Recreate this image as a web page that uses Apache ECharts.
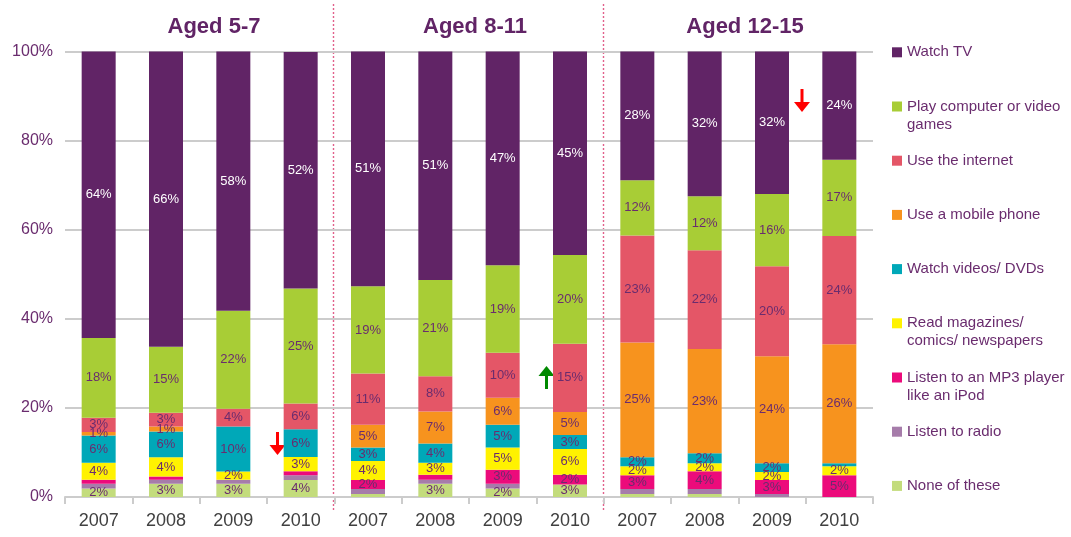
<!DOCTYPE html>
<html><head><meta charset="utf-8">
<script src="https://cdn.jsdelivr.net/npm/echarts@6/dist/echarts.min.js"></script>
<style>html,body{margin:0;padding:0;background:#fff}#c{width:1071px;height:537px}</style>
</head><body><div id="c"></div>
<script>
const categories = ['2007','2008','2009','2010','2007','2008','2009','2010','2007','2008','2009','2010'];
const groupTitles = ['Aged 5-7','Aged 8-11','Aged 12-15'];
const yTicks = [0,20,40,60,80,100];

// measured segment heights (%)
const none     = [1.9, 3.0, 3.0, 3.8, 0.7, 3.0, 1.9, 2.8, 0.7, 0.7, 0, 0];
const radio    = [1.1, 0.9, 0.9, 1.1, 1.1, 0.9, 1.1, 0, 1.1, 1.1, 0.7, 0];
const mp3      = [0.9, 0.7, 0, 0.9, 2.0, 1.1, 3.1, 2.2, 3.1, 4.0, 3.1, 4.9];
const readMag  = [3.8, 4.3, 1.8, 3.2, 4.3, 2.7, 5.0, 5.8, 2.0, 1.8, 1.8, 2.0];
const dvds     = [6.1, 5.8, 10.1, 6.2, 3.0, 4.3, 5.1, 3.1, 2.0, 2.2, 2.0, 0.7];
const mobile   = [0.8, 1.1, 0, 0, 5.1, 7.2, 6.1, 5.2, 25.8, 23.4, 24.0, 26.7];
const internet = [3.2, 3.1, 4.0, 5.8, 11.5, 7.9, 10.1, 15.3, 24.0, 22.2, 20.2, 24.3];
const games    = [17.9, 14.8, 22.0, 25.8, 19.6, 21.6, 19.6, 19.9, 12.4, 12.1, 16.2, 17.1];
const tv       = [64.3, 66.3, 58.2, 53.1, 52.7, 51.3, 48.0, 45.7, 28.9, 32.5, 32.0, 24.3];

// printed labels (null = not labelled)
const noneLbl     = [2,3,3,4,null,3,2,3,null,null,null,null];
const radioLbl    = [null,null,null,null,null,null,null,null,null,null,null,null];
const mp3Lbl      = [null,null,null,null,2,null,3,2,3,4,3,5];
const readLbl     = [4,4,2,3,4,3,5,6,2,2,2,2];
const dvdsLbl     = [6,6,10,6,3,4,5,3,2,2,2,null];
const mobileLbl   = [1,1,null,null,5,7,6,5,25,23,24,26];
const internetLbl = [3,3,4,6,11,8,10,15,23,22,20,24];
const gamesLbl    = [18,15,22,25,19,21,19,20,12,12,16,17];
const tvLbl       = [64,66,58,52,51,51,47,45,28,32,32,24];

const seriesDefs = [
  {name:'None of these', data:none, lbl:noneLbl, color:'#c3dc7c'},
  {name:'Listen to radio', data:radio, lbl:radioLbl, color:'#a67caa'},
  {name:'Listen to an MP3 player like an iPod', data:mp3, lbl:mp3Lbl, color:'#ec0b7b', legend:'Listen to an MP3 player\nlike an iPod'},
  {name:'Read magazines/ comics/ newspapers', data:readMag, lbl:readLbl, color:'#fff200', legend:'Read magazines/\ncomics/ newspapers'},
  {name:'Watch videos/ DVDs', data:dvds, lbl:dvdsLbl, color:'#00a8b8'},
  {name:'Use a mobile phone', data:mobile, lbl:mobileLbl, color:'#f7931e'},
  {name:'Use the internet', data:internet, lbl:internetLbl, color:'#e45667'},
  {name:'Play computer or video games', data:games, lbl:gamesLbl, color:'#a8cd36', legend:'Play computer or video\ngames'},
  {name:'Watch TV', data:tv, lbl:tvLbl, color:'#612466', white:true}
];

const FONT = '"Liberation Sans", Arial, sans-serif';
const PURPLE = '#612466';

const series = seriesDefs.map(d => ({
  name: d.name, type: 'bar', stack: 'all', barWidth: 34,
  itemStyle: {color: d.color},
  label: {
    show: true, position: 'inside', fontFamily: FONT, fontSize: 13,
    color: d.white ? '#ffffff' : '#6a2c6e',
    formatter: p => (d.lbl[p.dataIndex] == null ? '' : d.lbl[p.dataIndex] + '%')
  },
  emphasis: {disabled: true},
  data: d.data
}));

// legends: top-down order
const legendOrder = seriesDefs.slice().reverse();
const legends = legendOrder.map((d, i) => {
  const c = 52.3 + i * 54.2;
  const two = !!d.legend;
  return {
    data: [d.name], left: 887, top: two ? c - 27 - 5 : c - 9 - 5,
    icon: 'rect', itemWidth: 10, itemHeight: 10, selectedMode: false,
    formatter: () => (two ? ' \n' + d.legend : d.name),
    textStyle: {fontFamily: FONT, fontSize: 15, lineHeight: 18, color: '#6a2c6e'}
  };
});

const titleCenters = [214, 475, 745];
const graphics = [];
groupTitles.forEach((t, i) => graphics.push({
  type: 'text', x: titleCenters[i], y: 27,
  style: {text: t, fontFamily: FONT, fontSize: 22, fontWeight: 'bold', fill: PURPLE, align: 'center', verticalAlign: 'middle'}
}));
[333.5, 603.5].forEach(x => graphics.push({
  type: 'line', shape: {x1: x, y1: 4, x2: x, y2: 512},
  style: {stroke: '#e2608a', lineWidth: 1.4, lineDash: [2, 2]}
}));
function arrow(x, yTop, yBot, up, color) {
  const headLen = 10, headW = 8;
  if (up) {
    graphics.push({type: 'polygon', shape: {points: [[x, yTop], [x - headW, yTop + headLen], [x + headW, yTop + headLen]]}, style: {fill: color}});
    graphics.push({type: 'rect', shape: {x: x - 1.5, y: yTop + headLen - 1, width: 3, height: yBot - yTop - headLen + 1}, style: {fill: color}});
  } else {
    graphics.push({type: 'rect', shape: {x: x - 1.5, y: yTop, width: 3, height: yBot - yTop - headLen + 1}, style: {fill: color}});
    graphics.push({type: 'polygon', shape: {points: [[x, yBot], [x - headW, yBot - headLen], [x + headW, yBot - headLen]]}, style: {fill: color}});
  }
}
arrow(277.5, 432, 455, false, '#ff0000');
arrow(546.5, 366, 389, true, '#008a00');
arrow(802, 89, 112, false, '#ff0000');

const chart = echarts.init(document.getElementById('c'), null, {renderer: 'canvas'});
chart.setOption({
  animation: false,
  backgroundColor: '#ffffff',
  grid: {left: 65, right: 198, top: 51.5, bottom: 40},
  legend: legends,
  xAxis: {
    type: 'category', data: categories,
    axisLine: {lineStyle: {color: '#cccccc', width: 2}},
    axisTick: {show: true, length: 7, lineStyle: {color: '#cccccc', width: 2}},
    axisLabel: {fontFamily: FONT, fontSize: 18, color: '#404040', margin: 15}
  },
  yAxis: {
    type: 'value', min: yTicks[0], max: yTicks[yTicks.length - 1], interval: 20,
    axisLine: {show: false}, axisTick: {show: false},
    splitLine: {lineStyle: {color: '#cccccc', width: 2}},
    axisLabel: {fontFamily: FONT, fontSize: 16, color: '#6a2c6e', margin: 12, formatter: v => v + '%'}
  },
  series: series,
  graphic: graphics
});
</script>
</body></html>
